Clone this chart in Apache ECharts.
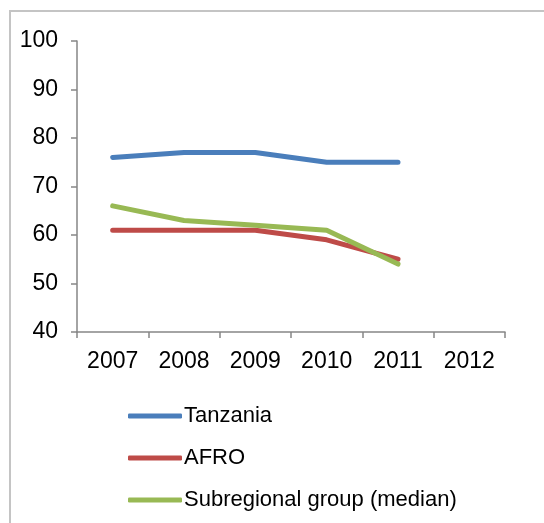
<!DOCTYPE html>
<html>
<head>
<meta charset="utf-8">
<script src="https://cdn.jsdelivr.net/npm/echarts@6/dist/echarts.min.js"></script>
<style>
  html, body { margin: 0; padding: 0; background: #fff; }
  #chart { width: 544px; height: 523px; }
</style>
</head>
<body>
<div id="chart"></div>
<script>
var years = ['2007', '2008', '2009', '2010', '2011', '2012'];
var tanzania = [76, 77, 77, 75, 75, null];
var afro = [61, 61, 61, 59, 55, null];
var subregional = [66, 63, 62, 61, 54, null];

var font = '"Liberation Sans Narrow", "Liberation Sans", Arial, sans-serif';

function line(name, data, color) {
    return {
        name: name,
        type: 'line',
        data: data,
        symbol: 'none',
        lineStyle: { color: color, width: 5, cap: 'round', join: 'round' },
        itemStyle: { color: color }
    };
}

var myChart = echarts.init(document.getElementById('chart'));
myChart.setOption({
    animation: false,
    grid: { left: 77, right: 39, top: 41, bottom: 191 },
    graphic: [{
        type: 'rect',
        shape: { x: 10, y: 11, width: 600, height: 600 },
        style: { fill: 'none', stroke: '#c4c4c4', lineWidth: 2 },
        silent: true
    }],
    xAxis: {
        type: 'category',
        data: years,
        boundaryGap: true,
        axisLine: { lineStyle: { color: '#868686', width: 1.5 } },
        axisTick: { show: true, length: 6, lineStyle: { color: '#868686', width: 1.5 } },
        axisLabel: { color: '#000', fontFamily: font, fontSize: 23, margin: 18 }
    },
    yAxis: {
        type: 'value',
        min: 40,
        max: 100,
        interval: 10,
        splitLine: { show: false },
        axisLine: { show: true, lineStyle: { color: '#868686', width: 1.5 } },
        axisTick: { show: true, length: 6, lineStyle: { color: '#868686', width: 1.5 } },
        axisLabel: { color: '#000', fontFamily: font, fontSize: 23, margin: 19 }
    },
    legend: {
        orient: 'vertical',
        left: 128,
        top: 405,
        padding: 0,
        itemWidth: 54,
        itemHeight: 5,
        itemGap: 20,
        icon: 'roundRect',
        textStyle: { color: '#000', fontFamily: font, fontSize: 22, padding: [0, 0, 0, -3] },
        data: ['Tanzania', 'AFRO', 'Subregional group (median)']
    },
    series: [
        line('Tanzania', tanzania, '#4a7ebb'),
        line('AFRO', afro, '#be4b48'),
        line('Subregional group (median)', subregional, '#98b954')
    ]
});
</script>
</body>
</html>
